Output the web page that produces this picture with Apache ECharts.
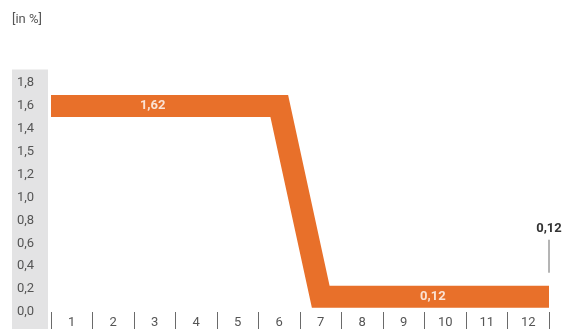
<!DOCTYPE html>
<html>
<head>
<meta charset="utf-8">
<script src="https://cdn.jsdelivr.net/npm/echarts@6/dist/echarts.min.js"></script>
<style>html,body{margin:0;padding:0;background:#fff;}#c{width:565px;height:329px;}</style>
</head>
<body>
<div id="c"></div>
<script>
var months = ['1','2','3','4','5','6','7','8','9','10','11','12'];
var yTickLabels = ['0,0','0,2','0,4','0,6','0,8','1,0','1,2','1,5','1,4','1,6','1,8'];
var bandX = [0, 5.5, 6.5, 12];
var bandY = [1.62, 1.62, 0.12, 0.12];
var valueLabels = ['1,62', '0,12'];
var valueLabelX = [2.45, 9.2];
var valueLabelY = [1.62, 0.12];
var endLabel = '0,12';
var endValue = 0.12;
var unitLabel = '[in %]';

var FONT = 'Roboto, "Liberation Sans", sans-serif';
var ORANGE = '#E8702A';
var chart = echarts.init(document.getElementById('c'), null, {renderer: 'canvas'});

var bandData = bandX.map(function (x, i) { return [x, bandY[i]]; });
var labelData = valueLabels.map(function (t, i) { return {value: [valueLabelX[i], valueLabelY[i]], name: t}; });

chart.setOption({
  animation: false,
  backgroundColor: '#fff',
  grid: {left: 51, right: 16, top: 83, bottom: 16.4, containLabel: false},
  xAxis: [{
    type: 'category',
    data: months,
    boundaryGap: true,
    axisLine: {show: false},
    axisTick: {show: true, length: 17, interval: 0, lineStyle: {color: '#6a6a6a', width: 1}},
    axisLabel: {color: '#555', fontFamily: FONT, fontSize: 13, margin: 4, interval: 0},
    splitLine: {show: false}
  }, {
    type: 'value', min: 0, max: 12, show: false
  }],
  yAxis: {
    type: 'value', min: 0, max: 1.8, interval: 0.18,
    axisLine: {show: false}, axisTick: {show: false}, splitLine: {show: false},
    axisLabel: {
      color: '#555', fontFamily: FONT, fontSize: 13, align: 'left', margin: 34,
      formatter: function (v) { return yTickLabels[Math.round(v / 0.18)] || ''; }
    }
  },
  graphic: [{
    type: 'rect', left: 12, top: 69.5, z: -10,
    shape: {width: 36, height: 260},
    style: {fill: '#e3e3e4'}
  }, {
    type: 'text', left: 12, top: 13,
    style: {text: unitLabel, fill: '#555', font: '13px ' + FONT}
  }],
  series: [{
    type: 'line',
    xAxisIndex: 1,
    data: bandData,
    symbol: 'none',
    lineStyle: {color: ORANGE, width: 22, join: 'miter', cap: 'butt', miterLimit: 10},
    z: 2
  }, {
    type: 'scatter',
    xAxisIndex: 1,
    data: labelData,
    symbolSize: 0,
    z: 5,
    label: {
      show: true, position: 'inside', color: '#fff', fontFamily: FONT, fontSize: 13, fontWeight: 'bold',
      formatter: function (p) { return p.name; }
    }
  }]
});

var p = chart.convertToPixel({xAxisIndex: 1, yAxisIndex: 0}, [12, endValue]);
chart.setOption({
  graphic: [{
    type: 'rect', left: 12, top: 69.5, z: -10,
    shape: {width: 36, height: 260},
    style: {fill: '#e3e3e4'}
  }, {
    type: 'text', left: 12, top: 13,
    style: {text: unitLabel, fill: '#555', font: '13px ' + FONT}
  }, {
    type: 'line',
    shape: {x1: p[0], y1: p[1] - 57, x2: p[0], y2: p[1] - 24},
    style: {stroke: '#6a6a6a', lineWidth: 1}
  }, {
    type: 'text', x: p[0], y: p[1] - 68,
    style: {text: endLabel, fill: '#333', font: 'bold 13px ' + FONT, align: 'center', verticalAlign: 'middle'}
  }]
});
</script>
</body>
</html>
